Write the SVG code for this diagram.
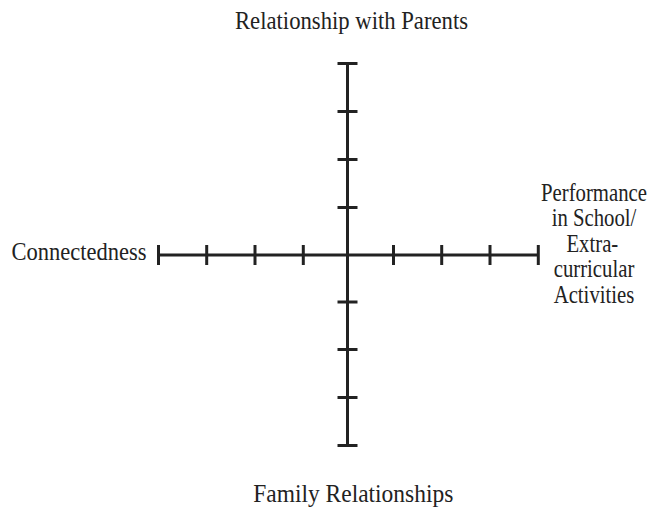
<svg xmlns="http://www.w3.org/2000/svg" width="656" height="514" viewBox="0 0 656 514">
<style>
.ax{stroke:#222;stroke-width:3;fill:none;stroke-linecap:butt}
.tk{stroke:#222;stroke-width:3}
.lb{font-family:"Liberation Serif","Times New Roman",serif;font-size:25px;fill:#222;text-anchor:middle}
</style>
<rect width="656" height="514" fill="#fff"/>
<g id="connectors">
<line class="ax" x1="347.5" y1="63.5" x2="347.5" y2="445.5"/>
<line class="ax" x1="158.5" y1="255" x2="538.5" y2="255"/>
<g class="tk">
<line x1="337.5" y1="63.5" x2="357.5" y2="63.5"/>
<line x1="337.5" y1="111.5" x2="357.5" y2="111.5"/>
<line x1="337.5" y1="159.5" x2="357.5" y2="159.5"/>
<line x1="337.5" y1="207.5" x2="357.5" y2="207.5"/>
<line x1="337.5" y1="302" x2="357.5" y2="302"/>
<line x1="337.5" y1="349.5" x2="357.5" y2="349.5"/>
<line x1="337.5" y1="397.5" x2="357.5" y2="397.5"/>
<line x1="337.5" y1="445.5" x2="357.5" y2="445.5"/>
<line x1="158.5" y1="245" x2="158.5" y2="265"/>
<line x1="206.7" y1="245" x2="206.7" y2="265"/>
<line x1="255" y1="245" x2="255" y2="265"/>
<line x1="303.3" y1="245" x2="303.3" y2="265"/>
<line x1="393.5" y1="245" x2="393.5" y2="265"/>
<line x1="441.7" y1="245" x2="441.7" y2="265"/>
<line x1="490" y1="245" x2="490" y2="265"/>
<line x1="538.3" y1="245" x2="538.3" y2="265"/>
</g>
</g>
<g id="top-label"><text class="lb" x="351.5" y="29" textLength="233" lengthAdjust="spacingAndGlyphs">Relationship with Parents</text></g>
<g id="bottom-label"><text class="lb" x="353.3" y="502" textLength="200" lengthAdjust="spacingAndGlyphs">Family Relationships</text></g>
<g id="left-label"><text class="lb" x="79" y="260" textLength="135" lengthAdjust="spacingAndGlyphs">Connectedness</text></g>
<g id="right-label" transform="translate(594,0) scale(0.83,1)">
<text class="lb" x="0" y="201">Performance</text>
<text class="lb" x="0" y="226.5">in School/</text>
<text class="lb" x="-2" y="252">Extra-</text>
<text class="lb" x="0" y="277.5">curricular</text>
<text class="lb" x="0" y="303">Activities</text>
</g>
</svg>
